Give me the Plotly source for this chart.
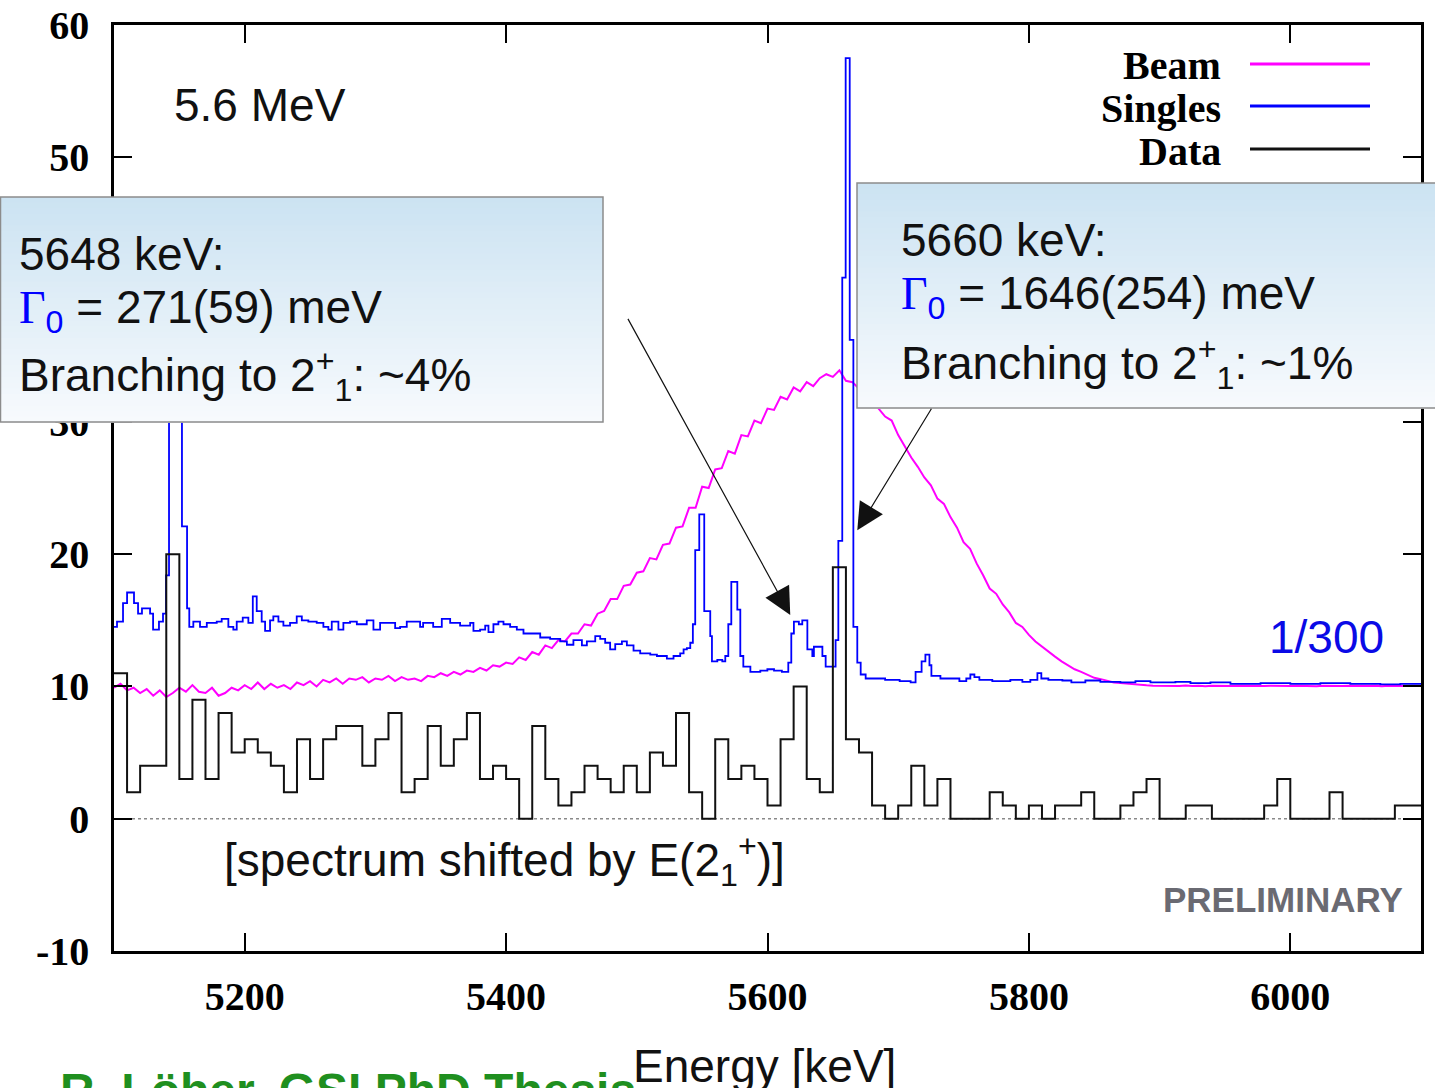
import plotly.graph_objects as go

# ---------------- data ----------------
# "Data" histogram: 10 keV bins starting at 5100 keV
data_bin_start = 5100
data_bin_width = 10
data_counts = [11, 2, 4, 4, 20, 3, 9, 3, 8, 5,
               6, 5, 4, 2, 6, 3, 6, 7, 7, 4,
               6, 8, 2, 3, 7, 4, 6, 8, 3, 4,
               3, 0, 7, 3, 1, 2, 4, 3, 2, 4,
               2, 5, 4, 8, 2, 0, 6, 3, 4, 3,
               1, 6, 10, 3, 2, 19, 6, 5, 1, 0,
               1, 4, 1, 3, 0, 0, 0, 2, 1, 0,
               1, 0, 1, 1, 2, 0, 0, 1, 2, 3,
               0, 0, 1, 1, 0, 0, 0, 0, 1, 3,
               0, 0, 0, 2, 0, 0, 0, 0, 1, 1]

# "Beam" profile sampled every 5 keV from 5100 to 6100 keV
beam_start = 5100
beam_step = 5
beam_values = [
    9.9, 10.2, 9.7, 9.9, 9.5, 9.8, 9.3, 9.7, 9.2, 9.5, 9.9, 9.6, 10.1, 9.6, 9.5, 9.9, 9.3, 9.5, 9.9, 9.7,
    10.1, 9.8, 10.3, 9.8, 10.2, 9.9, 10.1, 9.8, 10.3, 10.1, 10.4, 10.0, 10.5, 10.3, 10.6, 10.2, 10.6, 10.5, 10.7, 10.3,
    10.6, 10.5, 10.8, 10.4, 10.7, 10.5, 10.6, 10.4, 10.8, 10.7, 11.0, 10.8, 11.1, 10.9, 11.2, 11.1, 11.4, 11.2, 11.6, 11.5,
    11.8, 11.7, 12.2, 12.0, 12.6, 12.4, 13.1, 12.9, 13.5, 13.4, 14.0, 14.0, 14.7, 14.6, 15.5, 15.7, 16.6, 16.6, 17.6, 17.7,
    18.6, 18.7, 19.7, 19.6, 20.7, 20.8, 22.0, 22.1, 23.5, 23.5, 25.1, 25.0, 26.4, 26.5, 27.8, 27.6, 29.0, 28.9, 30.1, 29.9,
    31.0, 30.9, 31.9, 31.7, 32.6, 32.3, 33.0, 32.7, 33.3, 33.6, 33.4, 33.9, 33.1, 33.0, 32.5, 32.1, 31.5, 31.0, 30.4, 30.1,
    29.0, 28.1, 27.3, 26.6, 25.8, 25.2, 24.2, 23.8, 22.8, 22.0, 20.9, 20.4, 19.3, 18.4, 17.4, 17.0, 16.2, 15.6, 14.8, 14.5,
    13.9, 13.4, 13.0, 12.6, 12.25, 11.9, 11.6, 11.3, 11.1, 10.85, 10.65, 10.55, 10.42, 10.3, 10.25, 10.2, 10.15, 10.1, 10.08, 10.06,
    10.05, 10.03, 10.06, 10.04, 10.07, 10.03, 10.05, 10.02, 10.06, 10.04, 10.05, 10.03, 10.06, 10.04, 10.02, 10.05, 10.03, 10.06, 10.04, 10.05,
    10.03, 10.06, 10.04, 10.05, 10.02, 10.05, 10.03, 10.06, 10.04, 10.05, 10.03, 10.06, 10.04, 10.05, 10.02, 10.05, 10.03, 10.06, 10.04, 10.05, 10.04,
]

# "Singles" (scaled 1/300) step histogram: left edges in keV and levels
singles_e = [5100.0, 5102.3, 5106.9, 5110.0, 5115.3, 5118.4, 5121.4, 5127.6, 5129.9, 5134.4,
             5137.5, 5139.8, 5142.1, 5145.2, 5149.0, 5152.0, 5155.9, 5157.6, 5160.7, 5165.8,
             5171.0, 5178.6, 5182.4, 5187.5, 5191.3, 5193.9, 5198.5, 5202.8, 5206.2, 5209.2,
             5213.0, 5215.6, 5219.4, 5221.9, 5225.8, 5229.6, 5234.7, 5239.8, 5243.7, 5248.7,
             5255.1, 5260.2, 5264.0, 5266.6, 5271.7, 5275.5, 5280.6, 5285.8, 5293.4, 5298.5,
             5303.6, 5308.7, 5315.1, 5318.9, 5324.0, 5334.2, 5336.5, 5344.2, 5350.8, 5357.2,
             5364.8, 5372.5, 5375.0, 5380.1, 5384.0, 5386.5, 5390.3, 5394.1, 5398.0, 5403.1,
             5408.2, 5413.3, 5420.9, 5426.1, 5433.7, 5441.4, 5446.5, 5451.5, 5458.0, 5461.8,
             5468.2, 5472.0, 5475.8, 5479.6, 5483.5, 5488.6, 5492.4, 5497.5, 5502.6, 5510.3,
             5515.4, 5523.0, 5528.1, 5533.2, 5535.8, 5538.3, 5540.9, 5542.9, 5544.7, 5547.8,
             5551.6, 5556.2, 5557.5, 5561.6, 5565.4, 5567.7, 5570.0, 5572.3, 5576.9, 5579.2,
             5581.5, 5586.9, 5594.5, 5599.9, 5605.0, 5611.0, 5615.9, 5618.2, 5620.2, 5624.0,
             5626.6, 5630.5, 5634.3, 5635.5, 5639.4, 5642.0, 5644.5, 5649.6, 5652.1, 5654.2,
             5657.2, 5659.8, 5662.9, 5665.7, 5668.7, 5671.3, 5675.1, 5690.0, 5701.1, 5709.5,
             5713.3, 5717.9, 5720.8, 5723.9, 5725.4, 5732.3, 5746.8, 5752.1, 5755.2, 5758.3,
             5762.1, 5772.0, 5785.8, 5795.0, 5801.1, 5806.5, 5809.5, 5814.9, 5825.6, 5832.5,
             5843.2, 5854.7, 5870.0, 5881.5, 5893.0, 5912.1, 5923.6, 5938.9, 5954.2, 5977.2,
             6000.0, 6023.0, 6045.9, 6068.9, 6084.2, 6100.0]
singles_v = [14.5, 14.9, 16.3, 17.1, 16.3, 15.5, 15.9, 15.5, 14.3, 14.9,
             15.5, 18.4, 36.0, 46.0, 34.0, 22.1, 15.9, 14.5, 14.9, 14.5,
             14.8, 14.9, 15.1, 14.5, 14.3, 14.9, 15.2, 14.8, 16.8, 15.7,
             14.9, 14.2, 15.0, 15.3, 14.9, 14.6, 14.8, 15.3, 15.0, 14.9,
             14.8, 14.5, 14.3, 14.9, 14.3, 14.8, 14.9, 14.7, 15.0, 14.3,
             14.8, 14.8, 14.4, 14.5, 14.9, 14.5, 14.8, 14.5, 15.1, 14.8,
             14.6, 14.8, 14.2, 14.3, 14.6, 14.1, 14.7, 14.9, 14.7, 14.5,
             14.3, 14.0, 14.0, 13.7, 13.6, 13.4, 13.15, 13.5, 13.1, 13.4,
             13.8, 13.6, 13.3, 12.8, 13.2, 13.4, 13.1, 12.7, 12.5, 12.4,
             12.3, 12.1, 12.3, 12.5, 12.8, 12.9, 13.3, 14.7, 20.3, 23.0,
             15.7, 13.8, 11.9, 12.0, 11.9, 12.3, 14.7, 17.9, 15.8, 12.3,
             11.5, 11.1, 11.2, 11.3, 11.2, 11.1, 11.8, 14.0, 14.9, 14.7,
             15.0, 12.8, 12.3, 13.0, 13.0, 12.3, 11.5, 11.5, 13.5, 21.0,
             40.9, 57.5, 36.2, 14.5, 11.8, 10.9, 10.6, 10.5, 10.4, 10.3,
             11.1, 11.9, 12.4, 11.6, 10.8, 10.6, 10.4, 10.6, 10.9, 10.7,
             10.5, 10.4, 10.5, 10.35, 10.5, 11.0, 10.6, 10.5, 10.45, 10.3,
             10.45, 10.35, 10.3, 10.4, 10.3, 10.35, 10.25, 10.3, 10.2, 10.25,
             10.2, 10.25, 10.2, 10.15, 10.2, 10.2]

x_ticks = [5200, 5400, 5600, 5800, 6000]
y_ticks = [-10, 0, 10, 20, 30, 40, 50, 60]
x_range = [5100, 6100]
y_range = [-10, 60]

# ---------------- derived coordinates ----------------
data_x = [data_bin_start + i * data_bin_width for i in range(len(data_counts) + 1)]
data_y = data_counts + [data_counts[-1]]
beam_x = [beam_start + i * beam_step for i in range(len(beam_values))]

fig = go.Figure()
fig.add_trace(go.Scatter(x=beam_x, y=beam_values, mode="lines",
                         line=dict(color="#ff00ff", width=2), name="Beam", showlegend=False))
fig.add_trace(go.Scatter(x=singles_e, y=singles_v, mode="lines",
                         line=dict(color="#0000ff", width=1.8, shape="hv"), name="Singles", showlegend=False))
fig.add_trace(go.Scatter(x=data_x, y=data_y, mode="lines",
                         line=dict(color="#111111", width=2, shape="hv"), name="Data", showlegend=False))

tickfont = dict(family="Liberation Serif", size=40, color="black", weight="bold")
axis_common = dict(showline=True, linewidth=2.5, linecolor="black", mirror="ticks",
                   ticks="inside", ticklen=18, tickwidth=2, tickcolor="black",
                   showgrid=False, zeroline=False, tickfont=tickfont, automargin=False)

fig.update_layout(
    width=1435, height=1088, autosize=False,
    margin=dict(l=114, r=14, t=25, b=137, autoexpand=False),
    paper_bgcolor="white", plot_bgcolor="white",
    xaxis=dict(range=x_range, tickvals=x_ticks, ticktext=[str(v) for v in x_ticks],
               ticklabelstandoff=8, **axis_common),
    yaxis=dict(range=y_range, tickvals=y_ticks, ticktext=[str(v) for v in y_ticks],
               ticklabelstandoff=14, **axis_common),
)

shapes = []
# dotted zero line
shapes.append(dict(type="line", xref="paper", x0=0, x1=1, yref="y", y0=0, y1=0,
                   line=dict(color="#8a8a8a", width=1.5, dash="dot"), layer="below"))

PW, PH, L, T = 1307.0, 926.0, 114.0, 25.0
def px(x):
    return (x - L) / PW
def py(y):
    return (T + PH - y) / PH

# legend keys (text left, line right)
legend_items = [("Beam", "#ff00ff", 64), ("Singles", "#0000ff", 106), ("Data", "#111111", 149)]
annotations = []
for label, col, yy in legend_items:
    shapes.append(dict(type="line", xref="paper", yref="paper", x0=px(1250), x1=px(1370),
                       y0=py(yy), y1=py(yy), line=dict(color=col, width=3), layer="above"))
    annotations.append(dict(text=label, xref="paper", yref="paper", x=px(1223), y=py(yy + 2),
                            xanchor="right", yanchor="middle", showarrow=False,
                            font=dict(family="Liberation Serif", size=40, color="black", weight="bold")))

# gradient info boxes
def grad_box(x0, x1, ytop, ybot, n=40):
    top = (204, 227, 242)
    bot = (247, 250, 253)
    for i in range(n):
        f = i / (n - 1)
        c = tuple(round(top[k] + (bot[k] - top[k]) * f) for k in range(3))
        ya = ytop + (ybot - ytop) * i / n
        yb = ytop + (ybot - ytop) * (i + 1) / n + 0.8
        shapes.append(dict(type="rect", xref="paper", yref="paper", x0=px(x0), x1=px(x1),
                           y0=py(yb), y1=py(ya), fillcolor="rgb(%d,%d,%d)" % c,
                           line=dict(width=0), layer="above"))
    shapes.append(dict(type="rect", xref="paper", yref="paper", x0=px(x0), x1=px(x1),
                       y0=py(ybot), y1=py(ytop), fillcolor="rgba(0,0,0,0)",
                       line=dict(color="#8c8c8c", width=1.5), layer="above"))

grad_box(0.5, 603, 197, 422)
grad_box(857, 1440, 183, 408)

sans = dict(family="Liberation Sans", size=46, color="#111111")
def txt(s, x, y, anchor="left", font=None):
    annotations.append(dict(text=s, xref="paper", yref="paper", x=px(x), y=py(y),
                            xanchor=anchor, yanchor="middle", showarrow=False,
                            font=font or sans))

gamma = ('<span style="font-family:Liberation Serif;color:#0000ff">\u0393</span>'
         '<sub style="color:#0000ff">0</sub>')
txt("5648 keV:", 17, 254)
txt(gamma + " = 271(59) meV", 17, 310)
txt("Branching to 2<sup>+</sup><sub>1</sub>: ~4%", 17, 376)
txt("5660 keV:", 899, 240)
txt(gamma + " = 1646(254) meV", 899, 297)
txt("Branching to 2<sup>+</sup><sub>1</sub>: ~1%", 899, 363)

txt("5.6 MeV", 172, 105)
txt("1/300", 1386, 637, anchor="right", font=dict(family="Liberation Sans", size=46, color="#0a0ae6"))
txt("[spectrum shifted by E(2<sub>1</sub><sup>+</sup>)]", 222, 860)
txt("PRELIMINARY", 1405, 899, anchor="right",
    font=dict(family="Liberation Sans", size=35, color="#6a6a72", weight="bold"))
txt("Energy [keV]", 764, 1066, anchor="center")
txt("R. Löher, GSI PhD Thesis", 58, 1090,
    font=dict(family="Liberation Sans", size=48, color="#1f8f1f", weight="bold"))

# arrows pointing at the peaks (data coordinates)
arrow_specs = [(5617.4, 15.4, 5492.6, 37.9), (5668.7, 21.8, 5726.1, 31.1)]
for xt, yt, xa, ya in arrow_specs:
    annotations.append(dict(text="", x=xt, y=yt, xref="x", yref="y", ax=xa, ay=ya,
                            axref="x", ayref="y", showarrow=True, arrowhead=2,
                            arrowsize=4.5, arrowwidth=1.2, arrowcolor="#111111"))

fig.update_layout(shapes=shapes, annotations=annotations)
fig.write_html("out.html")
